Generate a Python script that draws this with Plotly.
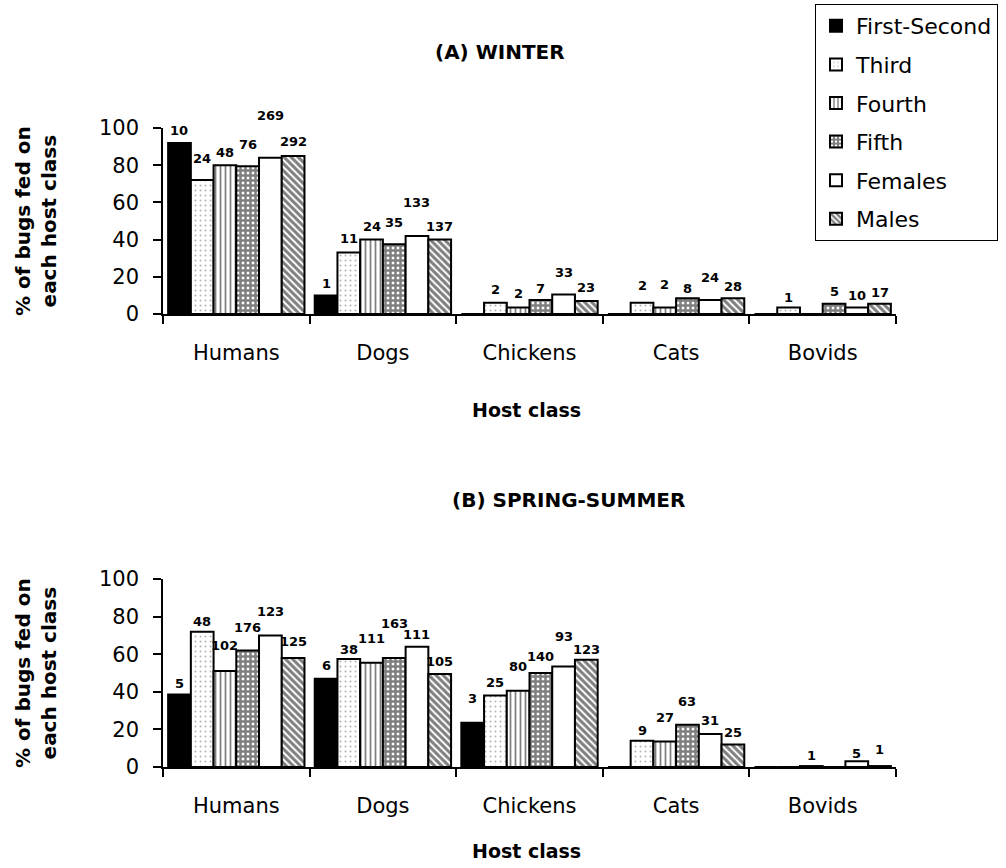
import plotly.graph_objects as go

# ---------------- data ----------------
CATEGORIES = ["Humans", "Dogs", "Chickens", "Cats", "Bovids"]
STAGES = ["First-Second", "Third", "Fourth", "Fifth", "Females", "Males"]

# (A) WINTER: % of bugs fed on each host class
WINTER_FIRST = [92, 10, 0, 0, 0]
WINTER_THIRD = [72, 33, 6, 6, 3.5]
WINTER_FOURTH = [80, 40, 3.5, 3.5, 0]
WINTER_FIFTH = [79.5, 37.5, 7.5, 8.5, 5.5]
WINTER_FEMALES = [84, 42, 10.5, 7.5, 3.5]
WINTER_MALES = [85, 40, 7, 8.5, 5.5]

# (A) WINTER: number of bugs (bar labels)
WINTER_N_FIRST = [10, 1, None, None, None]
WINTER_N_THIRD = [24, 11, 2, 2, 1]
WINTER_N_FOURTH = [48, 24, 2, 2, None]
WINTER_N_FIFTH = [76, 35, 7, 8, 5]
WINTER_N_FEMALES = [269, 133, 33, 24, 10]
WINTER_N_MALES = [292, 137, 23, 28, 17]

# (B) SPRING-SUMMER: % of bugs fed on each host class
SUMMER_FIRST = [38.5, 47, 23.5, 0, 0]
SUMMER_THIRD = [72, 57.5, 38, 14, 0]
SUMMER_FOURTH = [51, 55.5, 40.5, 13.5, 0.5]
SUMMER_FIFTH = [62, 58, 50, 22.5, 0]
SUMMER_FEMALES = [70, 64, 53.5, 17.5, 3]
SUMMER_MALES = [58, 49.5, 57, 12, 0.5]

# (B) SPRING-SUMMER: number of bugs (bar labels)
SUMMER_N_FIRST = [5, 6, 3, None, None]
SUMMER_N_THIRD = [48, 38, 25, 9, None]
SUMMER_N_FOURTH = [102, 111, 80, 27, 1]
SUMMER_N_FIFTH = [176, 163, 140, 63, None]
SUMMER_N_FEMALES = [123, 111, 93, 31, 5]
SUMMER_N_MALES = [125, 105, 123, 25, 1]

Y_TICKS = [0, 20, 40, 60, 80, 100]

# ---------------- styles ----------------
FONT = "DejaVu Sans"
BARGAP = 0.07

STAGE_STYLES = [
    dict(color="black", pattern=None),
    dict(color="white", pattern=dict(shape=".", fgcolor="#666666", size=5, solidity=0.12)),
    dict(color="white", pattern=dict(shape="|", fgcolor="black", size=5, solidity=0.35)),
    dict(color="white", pattern=dict(shape="+", fgcolor="black", size=5, solidity=0.75)),
    dict(color="white", pattern=None),
    dict(color="white", pattern=dict(shape="\\", fgcolor="black", size=5, solidity=0.6)),
]

# label vertical offsets (px above bar top), per stage, per host
WINTER_LABEL_SHIFT = [
    [12, 12, 0, 0, 0],
    [22, 14, 13, 17, 10],
    [13, 13, 14, 23, 0],
    [22, 22, 12, 10, 12],
    [42, 33, 22, 23, 12],
    [14, 13, 13, 12, 11],
]
SUMMER_LABEL_SHIFT = [
    [11, 13, 24, 0, 0],
    [10, 9, 13, 10, 0],
    [26, 24, 24, 24, 11],
    [23, 34, 17, 23, 0],
    [24, 12, 30, 14, 8],
    [16, 12, 10, 12, 17],
]

W, H = 1006, 868


def px_x(p):
    return p / W


def px_y(p):
    return 1 - p / H


winter_vals = [WINTER_FIRST, WINTER_THIRD, WINTER_FOURTH, WINTER_FIFTH, WINTER_FEMALES, WINTER_MALES]
winter_ns = [WINTER_N_FIRST, WINTER_N_THIRD, WINTER_N_FOURTH, WINTER_N_FIFTH, WINTER_N_FEMALES, WINTER_N_MALES]
summer_vals = [SUMMER_FIRST, SUMMER_THIRD, SUMMER_FOURTH, SUMMER_FIFTH, SUMMER_FEMALES, SUMMER_MALES]
summer_ns = [SUMMER_N_FIRST, SUMMER_N_THIRD, SUMMER_N_FOURTH, SUMMER_N_FIFTH, SUMMER_N_FEMALES, SUMMER_N_MALES]

fig = go.Figure()
annotations = []

nst = len(STAGES)
bw = (1 - BARGAP) / nst

for panel, (vals, ns, shifts, xa, ya) in enumerate([
    (winter_vals, winter_ns, WINTER_LABEL_SHIFT, "x", "y"),
    (summer_vals, summer_ns, SUMMER_LABEL_SHIFT, "x2", "y2"),
]):
    for j, stage in enumerate(STAGES):
        st = STAGE_STYLES[j]
        marker = dict(color=st["color"], line=dict(color="black", width=2))
        if st["pattern"] is not None:
            p = dict(st["pattern"])
            p["bgcolor"] = "white"
            marker["pattern"] = p
        fig.add_trace(go.Bar(
            x=CATEGORIES, y=vals[j], name=stage, marker=marker,
            xaxis=xa, yaxis=ya, showlegend=(panel == 0),
            legendgroup=stage, offsetgroup=str(j),
        ))
        for i, cat in enumerate(CATEGORIES):
            n = ns[j][i]
            if n is None:
                continue
            annotations.append(dict(
                x=i - (1 - BARGAP) / 2 + (j + 0.5) * bw, y=vals[j][i],
                xref=xa, yref=ya, text=str(n), showarrow=False,
                yanchor="middle", yshift=shifts[j][i],
                font=dict(family=FONT, size=13, color="black", weight="bold"),
            ))

# titles and axis titles
TITLE_FONT = dict(family=FONT, size=20, color="black", weight="bold")
AX_TITLE_FONT = dict(family=FONT, size=20, color="black", weight="bold")
HOST_FONT = dict(family=FONT, size=19, color="black", weight="bold")
annotations += [
    dict(text="(A) WINTER", x=px_x(500), y=px_y(52), xref="paper", yref="paper",
         showarrow=False, xanchor="center", yanchor="middle", font=TITLE_FONT),
    dict(text="(B) SPRING-SUMMER", x=px_x(568), y=px_y(500), xref="paper", yref="paper",
         showarrow=False, xanchor="center", yanchor="middle", font=TITLE_FONT),
    dict(text="Host class", x=px_x(526), y=px_y(410), xref="paper", yref="paper",
         showarrow=False, xanchor="center", yanchor="middle", font=HOST_FONT),
    dict(text="Host class", x=px_x(526), y=px_y(851), xref="paper", yref="paper",
         showarrow=False, xanchor="center", yanchor="middle", font=HOST_FONT),
    dict(text="% of bugs fed on<br>each host class", x=px_x(36), y=px_y(221), xref="paper", yref="paper",
         showarrow=False, xanchor="center", yanchor="middle", textangle=-90, font=AX_TITLE_FONT),
    dict(text="% of bugs fed on<br>each host class", x=px_x(36), y=px_y(673), xref="paper", yref="paper",
         showarrow=False, xanchor="center", yanchor="middle", textangle=-90, font=AX_TITLE_FONT),
]

TICK_FONT = dict(family=FONT, size=21, color="black")
xaxis_common = dict(
    showline=True, linecolor="black", linewidth=1.5, ticks="outside", tickson="boundaries",
    ticklen=8, tickcolor="black", tickwidth=1.5, tickfont=TICK_FONT, showgrid=False,
    zeroline=False, ticklabelstandoff=19, automargin=False,
)
yaxis_common = dict(
    range=[0, 100], tickvals=Y_TICKS, showline=True, linecolor="black", linewidth=1.5,
    ticks="outside", ticklen=8, tickcolor="black", tickwidth=1.5, tickfont=TICK_FONT,
    showgrid=False, zeroline=False, ticklabelstandoff=10, automargin=False,
)

fig.update_layout(
    width=W, height=H,
    margin=dict(l=0, r=0, t=0, b=0, autoexpand=False),
    paper_bgcolor="white", plot_bgcolor="white",
    barmode="group", bargap=BARGAP, bargroupgap=0,
    xaxis=dict(domain=[px_x(163), px_x(896)], anchor="y", **xaxis_common),
    yaxis=dict(domain=[px_y(314), px_y(128)], anchor="x", **yaxis_common),
    xaxis2=dict(domain=[px_x(163), px_x(896)], anchor="y2", **xaxis_common),
    yaxis2=dict(domain=[px_y(767), px_y(579)], anchor="x2", **yaxis_common),
    legend=dict(
        x=px_x(815), y=px_y(4), xanchor="left", yanchor="top",
        bordercolor="black", borderwidth=1, bgcolor="white",
        font=dict(family=FONT, size=22, color="black"),
        traceorder="grouped", tracegroupgap=7,
    ),
    annotations=annotations,
    font=dict(family=FONT, color="black"),
)

fig.write_html(
    "out.html",
    config={"displayModeBar": False},
    post_script="document.body.style.margin='0';document.body.style.overflow='hidden';",
)
